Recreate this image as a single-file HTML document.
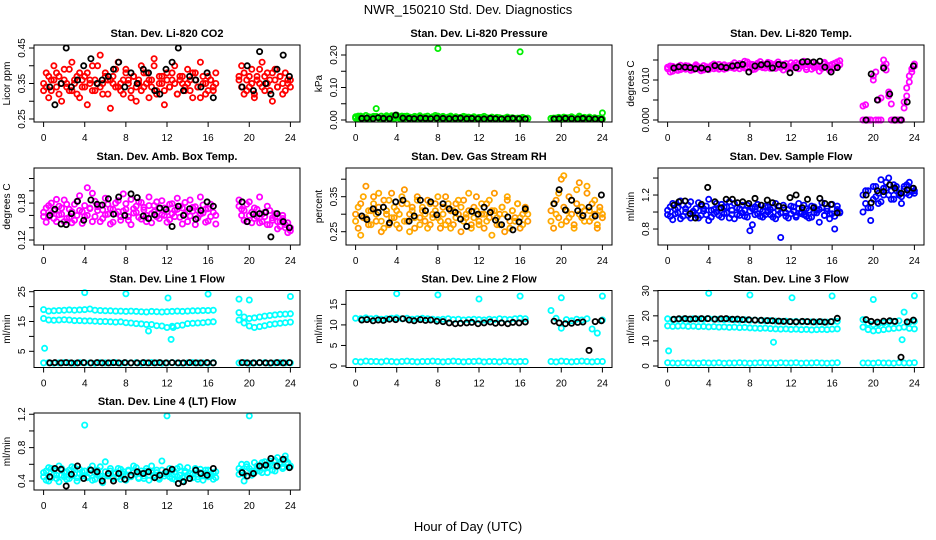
<!DOCTYPE html>
<html><head><meta charset="utf-8"><style>
html,body{margin:0;padding:0;background:#fff;}
svg{display:block;font-family:"Liberation Sans",Arial,sans-serif;}
</style></head><body>
<svg id="chart" width="936" height="540" viewBox="0 0 936 540" xmlns="http://www.w3.org/2000/svg">
<text x="468" y="14" text-anchor="middle" font-size="13">NWR_150210  Std. Dev. Diagnostics</text>
<text x="468" y="531" text-anchor="middle" font-size="13">Hour of Day (UTC)</text>
</svg>
<script>
const H=[0,0.25,0.5,0.75,1,1.25,1.5,1.75,2,2.25,2.5,2.75,3,3.25,3.5,3.75,4,4.25,4.5,4.75,5,5.25,5.5,5.75,6,6.25,6.5,6.75,7,7.25,7.5,7.75,8,8.25,8.5,8.75,9,9.25,9.5,9.75,10,10.25,10.5,10.75,11,11.25,11.5,11.75,12,12.25,12.5,12.75,13,13.25,13.5,13.75,14,14.25,14.5,14.75,15,15.25,15.5,15.75,16,16.25,16.5,16.75,19,19.25,19.5,19.75,20,20.25,20.5,20.75,21,21.25,21.5,21.75,22,22.25,22.5,22.75,23,23.25,23.5,23.75,24];
const HB=[0,0.5,1,1.5,2,2.5,3,3.5,4,4.5,5,5.5,6,6.5,7,7.5,8,8.5,9,9.5,10,10.5,11,11.5,12,12.5,13,13.5,14,14.5,15,15.5,16,16.5,19,19.5,20,20.5,21,21.5,22,22.5,23,23.5,24];
const BH=[0.6,1.1,1.7,2.2,2.7,3.3,3.9,4.6,5.2,5.7,6.3,6.8,7.3,7.9,8.5,9.1,9.7,10.2,10.8,11.3,11.9,12.5,13.1,13.6,14.2,14.8,15.3,15.9,16.5,19.3,19.8,20.4,21.0,21.6,22.1,22.7,23.3,23.9];

const co2A=[.35,.34,.37,.33,.36,.38,.32,.35,.36,.34,.39,.33,.35,.37,.31,.36,.34,.38,.35,.33,.36,.40,.34,.35,.37,.32,.36,.35,.39,.34,.33,.36,.38,.35,.31,.37,.34,.36,.33,.38,.35,.36,.34,.40,.32,.35,.37,.33,.36,.34,.38,.35,.32,.36,.37,.34,.35,.33,.38,.36,.34,.31,.37,.35,.33,.36,.34,.35,.36,.34,.38,.33,.37,.35,.32,.36,.39,.34,.37,.35,.33,.38,.36,.34,.37,.35,.33,.36,.34];
const co2B=[.33,.38,.31,.36,.40,.34,.37,.30,.39,.35,.33,.41,.36,.32,.38,.34,.37,.29,.36,.40,.33,.35,.43,.32,.38,.36,.28,.37,.34,.41,.35,.32,.39,.36,.33,.37,.30,.35,.40,.34,.38,.31,.36,.42,.33,.37,.35,.29,.38,.34,.36,.40,.32,.37,.35,.33,.39,.36,.31,.38,.34,.41,.35,.32,.37,.36,.33,.38,.37,.40,.32,.36,.34,.39,.31,.37,.35,.41,.33,.38,.36,.30,.39,.34,.37,.32,.38,.35,.36];
const co2K=[.34,.29,.35,.45,.34,.36,.40,.42,.35,.36,.37,.39,.41,.34,.38,.35,.39,.38,.33,.32,.39,.41,.45,.33,.37,.36,.34,.38,.31,.34,.40,.33,.44,.35,.32,.39,.43,.37];

const presA=[.010,.012,.006,.008,.014,.005,.009,.011,.035,.007,.012,.004,.010,.008,.013,.006,.015,.009,.005,.011,.012,.004,.008,.010,.006,.013,.007,.009,.012,.005,.010,.014,.220,.008,.011,.006,.009,.012,.004,.010,.007,.008,.011,.005,.009,.006,.010,.004,.008,.007,.011,.005,.006,.009,.004,.008,.007,.005,.006,.009,.004,.007,.005,.006,.210,.008,.005,.006,.004,.006,.003,.008,.005,.009,.004,.007,.010,.006,.005,.012,.004,.008,.006,.009,.005,.007,.004,.006,.022];
const presB=[.006,.004,.012,.008,.005,.010,.003,.007,.011,.006,.004,.009,.013,.005,.008,.004,.010,.006,.012,.005,.007,.009,.004,.011,.006,.008,.005,.010,.004,.007,.009,.006,.012,.005,.008,.004,.006,.010,.007,.005,.004,.008,.006,.009,.004,.007,.005,.006,.004,.008,.005,.007,.004,.006,.005,.003,.006,.004,.005,.003,.006,.004,.005,.004,.006,.003,.005,.004,.005,.003,.006,.004,.002,.005,.007,.004,.003,.006,.005,.008,.004,.006,.003,.005,.004,.003,.005,.004,.003];
const presK=[.005,.006,.004,.007,.005,.004,.015,.006,.005,.004,.006,.005,.004,.006,.005,.004,.005,.006,.004,.005,.004,.003,.005,.004,.003,.004,.005,.004,.003,.003,.004,.005,.004,.003,.005,.004,.003,.002];

const tempA=[.0128,.0135,.0122,.0130,.0133,.0126,.0131,.0136,.0129,.0124,.0132,.0134,.0127,.0131,.0125,.0133,.0130,.0136,.0128,.0134,.0139,.0131,.0127,.0135,.0132,.0138,.0129,.0134,.0141,.0136,.0130,.0145,.0133,.0139,.0127,.0142,.0135,.0131,.0138,.0144,.0129,.0136,.0140,.0133,.0137,.0125,.0141,.0134,.0130,.0138,.0143,.0128,.0136,.0139,.0132,.0141,.0127,.0135,.0138,.0122,.0134,.0140,.0131,.0136,.0128,.0142,.0133,.0148,.0035,.0000,.0000,.0000,.0110,.0000,.0050,.0000,.0135,.0125,.0070,.0040,.0000,.0000,.0000,.0000,.0030,.0060,.0095,.0120,.0135];
const tempB=[.0132,.0120,.0134,.0128,.0124,.0137,.0129,.0127,.0135,.0131,.0126,.0138,.0133,.0123,.0136,.0129,.0126,.0132,.0140,.0130,.0127,.0134,.0138,.0129,.0136,.0131,.0143,.0137,.0128,.0133,.0147,.0131,.0140,.0126,.0137,.0132,.0146,.0139,.0130,.0135,.0142,.0138,.0129,.0145,.0131,.0139,.0133,.0128,.0143,.0136,.0130,.0140,.0135,.0147,.0126,.0137,.0143,.0131,.0139,.0134,.0129,.0144,.0137,.0124,.0139,.0131,.0145,.0138,.0000,.0038,.0000,.0000,.0100,.0120,.0000,.0055,.0150,.0140,.0060,.0000,.0000,.0000,.0000,.0000,.0045,.0080,.0110,.0128,.0140];
const tempK=[.0130,.0133,.0132,.0131,.0128,.0130,.0127,.0136,.0133,.0131,.0135,.0137,.0139,.0120,.0135,.0138,.0140,.0130,.0139,.0137,.0118,.0131,.0145,.0146,.0145,.0147,.0132,.0120,.0131,.0000,.0115,.0050,.0130,.0065,.0000,.0000,.0045,.0135];

const ambA=[.165,.172,.158,.180,.168,.150,.175,.162,.185,.155,.170,.148,.178,.160,.192,.166,.158,.205,.172,.150,.183,.168,.176,.155,.188,.162,.171,.149,.180,.166,.158,.195,.170,.152,.186,.164,.175,.157,.181,.169,.150,.190,.163,.176,.158,.171,.184,.160,.166,.153,.179,.168,.188,.157,.172,.162,.150,.185,.167,.174,.156,.190,.164,.170,.151,.178,.165,.160,.175,.160,.168,.150,.182,.165,.155,.170,.148,.162,.158,.175,.145,.156,.163,.150,.142,.155,.140,.148,.135];
const ambB=[.158,.149,.176,.163,.155,.186,.161,.172,.150,.178,.157,.166,.152,.183,.168,.147,.176,.160,.171,.196,.158,.174,.150,.169,.161,.178,.146,.170,.163,.184,.152,.167,.179,.158,.145,.171,.165,.182,.154,.173,.160,.176,.148,.166,.182,.155,.161,.172,.149,.178,.163,.158,.170,.175,.146,.181,.166,.159,.173,.145,.168,.162,.177,.149,.171,.158,.175,.146,.185,.170,.152,.178,.160,.148,.172,.158,.190,.150,.165,.145,.168,.152,.158,.138,.150,.160,.145,.132,.140];
const ambK=[.160,.170,.146,.145,.163,.183,.152,.185,.178,.177,.187,.162,.190,.160,.195,.189,.159,.155,.161,.172,.170,.142,.175,.160,.171,.154,.168,.182,.175,.182,.150,.162,.163,.165,.125,.163,.150,.140];

const rhA=[.30,.26,.33,.29,.38,.27,.31,.35,.28,.32,.25,.34,.30,.27,.36,.29,.31,.26,.33,.37,.28,.30,.32,.26,.35,.29,.31,.28,.34,.27,.30,.33,.29,.26,.32,.35,.28,.31,.27,.33,.30,.25,.34,.29,.31,.27,.32,.35,.28,.30,.26,.33,.29,.31,.36,.27,.30,.32,.25,.34,.28,.31,.29,.33,.26,.30,.32,.28,.31,.26,.34,.29,.40,.32,.28,.35,.30,.27,.33,.39,.29,.31,.36,.28,.33,.30,.26,.32,.29];
const rhB=[.28,.32,.24,.35,.29,.31,.27,.33,.30,.36,.28,.26,.31,.34,.29,.32,.27,.30,.35,.28,.33,.25,.31,.29,.34,.27,.32,.30,.26,.33,.29,.31,.35,.28,.30,.27,.33,.26,.31,.29,.34,.32,.28,.30,.36,.26,.29,.31,.27,.33,.30,.28,.34,.24,.31,.29,.27,.32,.30,.35,.26,.31,.28,.33,.29,.27,.31,.30,.28,.33,.30,.36,.27,.41,.31,.29,.34,.26,.37,.30,.32,.28,.38,.31,.29,.34,.27,.31,.30];
const rhK=[.295,.285,.315,.305,.320,.275,.335,.340,.280,.295,.340,.310,.335,.298,.330,.315,.305,.286,.265,.308,.300,.320,.305,.283,.270,.292,.255,.278,.315,.330,.370,.312,.340,.310,.296,.320,.295,.355];

const flowA=[1.02,.95,1.10,.98,1.05,.92,1.08,1.00,.96,1.12,.99,1.04,.93,1.07,1.01,.97,1.15,.94,1.03,1.00,.96,1.09,.98,1.06,.93,1.02,1.10,.97,1.04,.99,.95,1.08,1.01,.85,1.06,.98,1.03,.94,1.07,1.00,.97,1.05,.92,1.02,.99,1.08,.95,1.03,.98,1.06,.94,1.10,1.00,.97,1.04,.93,1.07,.99,1.02,.88,1.05,.96,1.01,.98,1.09,.95,1.03,1.00,1.20,1.10,1.25,1.05,1.30,1.18,1.22,1.12,1.28,1.35,1.20,1.25,1.15,1.30,1.22,1.18,1.27,1.32,1.20,1.24,1.22];
const flowB=[.97,1.06,.91,1.03,.99,1.13,.95,1.04,1.08,.93,1.01,.97,1.11,.96,1.04,1.07,.90,1.02,.98,1.10,1.04,.94,1.06,.99,1.12,.97,.92,1.05,.96,1.08,1.02,.94,.78,1.04,.97,1.09,.95,1.01,.97,1.06,1.03,.94,1.10,.97,.70,1.05,.99,.93,1.07,1.01,.96,1.04,.98,1.08,.95,1.02,.94,1.06,.99,1.03,1.11,.96,1.04,.92,.98,.80,1.07,.99,1.00,1.25,1.05,.90,1.15,1.30,1.10,1.38,1.20,1.28,1.40,1.15,1.32,1.25,1.20,1.10,1.30,1.22,1.35,1.28,1.25];
const flowK=[1.08,1.12,1.13,.98,.93,1.09,1.29,1.12,1.05,1.15,1.15,1.11,1.12,1.10,1.16,1.08,1.14,1.11,1.07,1.05,1.17,1.20,1.05,1.15,1.05,1.16,1.10,1.09,.99,1.20,1.11,1.25,1.24,1.32,1.28,1.22,1.26,1.28];

const l1Hi=[19,18.5,18.6,18.7,18.8,18.9,18.8,18.9,19,19.2,18.8,18.7,18.6,18.6,18.5,18.5,18.4,18.5,18.4,18.3,18.2,18.4,18.3,18.2,18.3,18.4,18.5,18.4,18.5,18.6,18.6,18.7,18.7,18.8,18,16.5,16,16.2,16.5,16.8,17,17.2,17.4,17.5,17.6];
const l1Mid=[16,15.5,15.4,15.5,15.6,15.5,15.3,15.3,15.2,15.2,15.1,15,15,14.9,14.8,14.9,14.6,14.5,14.3,14.2,14,14,13.6,13.5,13,13.4,13.6,13.8,14.3,14.4,14.5,14.6,14.8,14.9,15.5,14.5,13.5,13,13.3,13.6,14,14.2,14.4,14.6,14.8];
const l1Lo=[1.1,1.2,1.0,1.1,1.2,1.1,1.0,1.2,1.1,1.1,1.0,1.2,1.1,1.1,1.2,1.0,1.1,1.1,1.2,1.0,1.1,1.2,1.1,1.0,1.1,1.2,1.1,1.0,1.1,1.2,1.1,1.1,1.0,1.2,1.1,1.2,1.0,1.1,1.1,1.2,1.0,1.1,1.2,1.1,1.1];
const l1OutH=[0.1,4,8,10.2,12.1,12.4,12.6,16,19,20,24];
const l1Out=[6,24.7,24.3,11.8,22.9,9,13,24.2,22.5,22.2,23.4];
const l1K=[1.1,1.2,1.1,1.2,1.1,1.1,1.2,1.1,1.2,1.1,1.1,1.2,1.1,1.2,1.1,1.1,1.2,1.1,1.1,1.2,1.1,1.2,1.1,1.1,1.2,1.1,1.1,1.2,1.1,1.2,1.1,1.1,1.2,1.1,1.1,1.2,1.1,1.2];

const l2Hi=[11.6,11.5,11.7,11.5,11.6,11.4,11.5,11.6,11.7,11.5,11.6,11.4,11.5,11.6,11.5,11.4,11.3,11.4,11.5,11.3,11.4,11.2,11.3,11.4,11.3,11.2,11.4,11.3,11.5,11.4,11.3,11.5,11.6,11.5,13.5,11.6,9.2,11.3,11.0,11.4,11.2,11.5,9.0,8.0,11.2];
const l2Lo=[1.1,1.0,1.2,1.1,1.1,1.0,1.2,1.1,1.0,1.1,1.2,1.1,1.0,1.1,1.1,1.2,1.1,1.0,1.1,1.2,1.1,1.0,1.1,1.1,1.2,1.0,1.1,1.1,1.0,1.2,1.1,1.0,1.1,1.1,1.1,1.0,1.2,1.1,1.0,1.1,1.2,1.1,1.0,1.1,1.1];
const l2OutH=[4,8,12,16,20,24];
const l2Out=[17.6,17.3,16.3,17.0,16.6,17.0];
const l2K=[11.2,11.3,11.0,11.2,11.1,11.4,11.3,11.5,11.2,11.0,11.3,11.1,11.2,10.9,10.8,10.5,10.3,10.4,10.5,10.6,10.3,10.5,10.7,10.4,10.5,10.3,10.6,10.5,10.7,10.9,10.5,10.3,10.4,10.6,10.7,3.8,10.8,11.0];

const l3Hi=[18.8,18.5,18.6,18.7,18.6,18.8,18.7,18.6,18.9,18.7,18.6,18.5,18.6,18.4,18.3,18.4,18.2,18.3,18.1,18.0,18.1,17.9,17.8,17.9,17.7,17.8,17.6,17.7,17.6,17.5,17.6,17.5,17.7,17.8,18.5,17.0,16.5,16.8,17.2,17.5,17.8,18.0,21.5,17.5,17.8];
const l3Mid=[16.0,15.8,15.9,16.0,15.8,15.9,15.7,15.8,15.6,15.7,15.5,15.6,15.4,15.5,15.3,15.4,15.2,15.1,15.0,15.1,14.9,14.8,14.7,14.8,14.6,14.7,14.5,14.6,14.4,14.5,14.6,14.5,14.7,14.8,15.5,14.5,14.0,14.2,14.5,14.8,15.0,15.2,15.5,15.0,14.8];
const l3Lo=[1.3,1.2,1.1,1.3,1.2,1.2,1.1,1.3,1.2,1.2,1.3,1.1,1.2,1.2,1.3,1.2,1.1,1.2,1.3,1.2,1.2,1.1,1.3,1.2,1.2,1.3,1.1,1.2,1.2,1.3,1.2,1.1,1.2,1.3,1.2,1.2,1.1,1.3,1.2,1.2,1.1,1.3,1.2,1.2,1.3];
const l3OutH=[0.1,4,8,10.3,12.1,16,20,22.8,24];
const l3Out=[6,29,28.3,9.5,27.2,27.9,26.5,10.5,28];
const l3K=[18.6,18.8,18.9,18.7,18.8,18.9,18.9,18.7,18.8,18.9,18.6,18.7,18.5,18.4,18.3,18.2,18.1,18.0,17.9,17.8,17.7,17.6,17.8,17.7,17.6,17.7,17.5,17.7,19.0,18.5,17.8,17.5,17.9,18.0,17.8,3.5,17.6,18.3];

const l4A=[.45,.52,.40,.55,.48,.43,.58,.47,.50,.42,.53,.46,.56,.44,.49,.51,1.07,.45,.54,.41,.50,.48,.57,.43,.63,.46,.52,.44,.49,.55,.42,.51,.47,.53,.45,.58,.48,.43,.52,.46,.55,.41,.50,.47,.53,.44,.64,.49,1.18,.45,.52,.42,.55,.47,.44,.50,.56,.43,.48,.52,.45,.54,.41,.49,.53,.46,.50,.44,.55,.60,.48,.57,1.18,.52,.62,.55,.58,.50,.63,.56,.60,.53,.65,.58,.62,.57,.66,.60,.58];
const l4B=[.50,.41,.56,.44,.53,.47,.39,.55,.45,.51,.43,.57,.48,.40,.54,.46,.52,.44,.49,.58,.42,.53,.46,.38,.51,.47,.55,.43,.50,.45,.54,.48,.41,.52,.46,.50,.56,.44,.49,.43,.52,.47,.58,.45,.50,.42,.53,.46,.48,.55,.43,.51,.45,.57,.40,.52,.47,.49,.44,.55,.42,.50,.46,.53,.45,.48,.42,.51,.48,.52,.40,.60,.55,.47,.50,.58,.52,.62,.55,.50,.64,.58,.52,.68,.60,.55,.70,.62,.57];
const l4K=[.45,.55,.54,.34,.48,.58,.43,.53,.51,.40,.49,.40,.49,.42,.47,.51,.49,.51,.44,.47,.51,.54,.37,.39,.43,.53,.49,.47,.55,.50,.46,.49,.58,.59,.67,.58,.66,.56];

const xTicks=[0,4,8,12,16,20,24];

const NS="http://www.w3.org/2000/svg";
const svg=document.getElementById('chart');
const COLX=[34,346,658], ROWY=[45,168,290.5,413], PW=266, PH=77;

const panels=[
 {name:'co2',title:'Stan. Dev. Li-820 CO2',ylab:'Licor ppm',c:0,r:0,y0:0.2415,y1:0.4585,ticks:[.25,.30,.35,.40,.45],labs:[[.25,'0.25'],[.35,'0.35'],[.45,'0.45']],
  series:[[H,co2A,'#ff0000'],[H,co2B,'#ff0000'],[BH,co2K,'#000000']]},
 {name:'pressure',title:'Stan. Dev. Li-820 Pressure',ylab:'kPa',c:1,r:0,y0:-0.00615,y1:0.2308,ticks:[0,.05,.10,.15,.20],labs:[[0,'0.00'],[.10,'0.10'],[.20,'0.20']],
  series:[[H,presA,'#00ee00'],[H,presB,'#00ee00'],[BH,presK,'#000000']]},
 {name:'li820-temp',title:'Stan. Dev. Li-820 Temp.',ylab:'degrees C',c:2,r:0,y0:-0.0005,y1:0.01875,ticks:[0,.005,.010,.015],labs:[[0,'0.000'],[.010,'0.010']],
  series:[[H,tempA,'#ff00ff'],[H,tempB,'#ff00ff'],[BH,tempK,'#000000']]},
 {name:'amb-box-temp',title:'Stan. Dev. Amb. Box Temp.',ylab:'degrees C',c:0,r:1,y0:0.1119,y1:0.2371,ticks:[.12,.14,.16,.18,.20,.22],labs:[[.12,'0.12'],[.18,'0.18']],
  series:[[H,ambA,'#ff00ff'],[H,ambB,'#ff00ff'],[BH,ambK,'#000000']]},
 {name:'gas-stream-rh',title:'Stan. Dev. Gas Stream RH',ylab:'percent',c:1,r:1,y0:0.212,y1:0.432,ticks:[.25,.30,.35,.40],labs:[[.25,'0.25'],[.35,'0.35']],
  series:[[H,rhA,'#ff9900'],[H,rhB,'#ffaa00'],[BH,rhK,'#000000']]},
 {name:'sample-flow',title:'Stan. Dev. Sample Flow',ylab:'ml/min',c:2,r:1,y0:0.612,y1:1.518,ticks:[.8,1.0,1.2,1.4],labs:[[.8,'0.8'],[1.2,'1.2']],
  series:[[H,flowA,'#0000ff'],[H,flowB,'#0000ff'],[BH,flowK,'#000000']]},
 {name:'line1-flow',title:'Stan. Dev. Line 1 Flow',ylab:'ml/min',c:0,r:2,y0:-0.43,y1:25.4,ticks:[5,10,15,20,25],labs:[[5,'5'],[15,'15'],[25,'25']],
  series:[[HB,l1Hi,'#00ffff'],[HB,l1Mid,'#00ffff'],[HB,l1Lo,'#00ffff'],[l1OutH,l1Out,'#00ffff'],[BH,l1K,'#000000']]},
 {name:'line2-flow',title:'Stan. Dev. Line 2 Flow',ylab:'ml/min',c:1,r:2,y0:-0.36,y1:18.37,ticks:[0,5,10,15],labs:[[0,'0'],[5,'5'],[10,'10'],[15,'15']],
  series:[[HB,l2Hi,'#00ffff'],[HB,l2Lo,'#00ffff'],[l2OutH,l2Out,'#00ffff'],[BH,l2K,'#000000']]},
 {name:'line3-flow',title:'Stan. Dev. Line 3 Flow',ylab:'ml/min',c:2,r:2,y0:-0.6,y1:30.1,ticks:[0,10,20,30],labs:[[0,'0'],[10,'10'],[20,'20'],[30,'30']],
  series:[[HB,l3Hi,'#00ffff'],[HB,l3Mid,'#00ffff'],[HB,l3Lo,'#00ffff'],[l3OutH,l3Out,'#00ffff'],[BH,l3K,'#000000']]},
 {name:'line4-flow',title:'Stan. Dev. Line 4 (LT) Flow',ylab:'ml/min',c:0,r:3,y0:0.292,y1:1.215,ticks:[.4,.6,.8,1.0,1.2],labs:[[.4,'0.4'],[.8,'0.8'],[1.2,'1.2']],
  series:[[H,l4A,'#00ffff'],[H,l4B,'#00ffff'],[BH,l4K,'#000000']]}
];

function mk(tag,attrs,parent){const e=document.createElementNS(NS,tag);for(const k in attrs)e.setAttribute(k,attrs[k]);(parent||svg).appendChild(e);return e;}

panels.forEach(p=>{
  const L=COLX[p.c], T=ROWY[p.r], B=T+PH, R=L+PW;
  const xs=h=>L+9.6+h*(PW-19.2)/24;
  const ys=v=>B-(v-p.y0)/(p.y1-p.y0)*PH;
  const g=mk('g',{});
  
  
  const t=mk('text',{x:L+PW/2,y:T-8,'text-anchor':'middle','font-size':'11','font-weight':'bold'},g);
  t.textContent=p.title;
  
  
  const yl=mk('text',{transform:`translate(${L-24},${T+PH/2}) rotate(-90)`,'text-anchor':'middle','font-size':'10'},g);
  yl.textContent=p.ylab;
  
  
  const pg=mk('g',{fill:'none','stroke-width':'1.8'},g);
  
  
  p.series.forEach(s=>{
    const hx=s[0], vals=s[1];
    for(let i=0;i<vals.length&&i<hx.length;i++){
      const c=mk('circle',{cx:xs(hx[i]).toFixed(1),cy:ys(vals[i]).toFixed(1),r:'2.6',stroke:s[2]},pg);
      
      
    }
  });
  const fr=mk('rect',{x:L,y:T,width:PW,height:PH,fill:'none',stroke:'#000','stroke-width':'1'},g);
  
  
  xTicks.forEach(h=>{
    mk('line',{x1:xs(h),x2:xs(h),y1:B,y2:B+5,stroke:'#000'},g);
    const tx=mk('text',{x:xs(h),y:B+19,'text-anchor':'middle','font-size':'10'},g);
    tx.textContent=h;
    
    
  });
  mk('line',{x1:xs(0),x2:xs(24),y1:B,y2:B,stroke:'#000'},g);
  p.ticks.forEach(v=>{mk('line',{x1:L-5,x2:L,y1:ys(v),y2:ys(v),stroke:'#000'},g);});
  p.labs.forEach(([v,s])=>{
    const ty=mk('text',{transform:`translate(${L-9},${ys(v)}) rotate(-90)`,'text-anchor':'middle','font-size':'10'},g);
    ty.textContent=s;
    
    
  });
});
</script>
</body></html>
